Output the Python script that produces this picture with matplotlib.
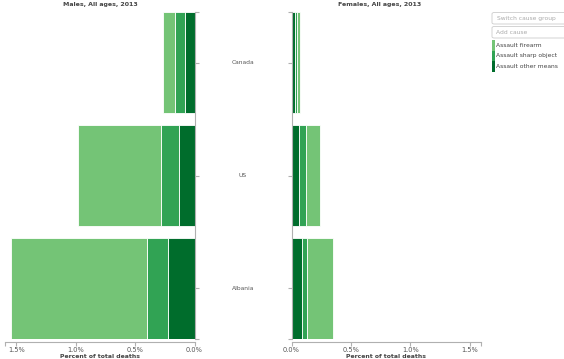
import matplotlib
matplotlib.use("Agg")
import matplotlib.pyplot as plt
import matplotlib.transforms as mtransforms
from matplotlib.patches import Rectangle, FancyBboxPatch

countries = ["Canada", "US", "Albania"]
causes = ["Assault firearm", "Assault sharp object", "Assault other means"]
colors = ["#74c476", "#31a354", "#006d2c"]

male_firearm = [0.10, 0.70, 1.15]
male_sharp = [0.09, 0.15, 0.18]
male_other = [0.076, 0.13, 0.22]

female_firearm = [0.023, 0.12, 0.22]
female_sharp = [0.02, 0.056, 0.045]
female_other = [0.03, 0.065, 0.087]

xticks = [0.0, 0.5, 1.0, 1.5]
xmax = 1.6

W, H = 564, 359
fig = plt.figure(figsize=(W / 100, H / 100), dpi=100)

def px_rect(x0, x1, ytop, ybot):
    return [x0 / W, (H - ybot) / H, (x1 - x0) / W, (ybot - ytop) / H]

pxper = 118.67
axL = fig.add_axes(px_rect(194.5 - xmax * pxper, 194.5, 12, 339))
axR = fig.add_axes(px_rect(291.5, 291.5 + xmax * pxper, 12, 339))

axis_col = "#b0b0b0"
tick_txt = "#555555"

ypos = list(range(len(countries)))

def draw(ax, series):
    left = [0.0] * len(countries)
    for vals, col in series:
        ax.barh(ypos, vals, left=left, height=0.9, color=col,
                edgecolor="white", linewidth=0.6)
        left = [l + v for l, v in zip(left, vals)]

draw(axL, [(male_other, colors[2]), (male_sharp, colors[1]), (male_firearm, colors[0])])
draw(axR, [(female_other, colors[2]), (female_sharp, colors[1]), (female_firearm, colors[0])])

for ax, side in ((axL, "right"), (axR, "left")):
    ax.set_ylim(2.45, -0.45)
    for s in ax.spines.values():
        s.set_visible(False)
    ax.spines[side].set_visible(True)
    ax.spines[side].set_color(axis_col)
    ax.spines["bottom"].set_visible(True)
    ax.spines["bottom"].set_color(axis_col)
    ax.spines["bottom"].set_position(("outward", 2))
    ax.set_yticks([-0.45] + ypos + [2.45])
    ax.set_yticklabels([])
    ax.set_xticks(xticks + [xmax])
    ax.set_xticklabels(["%.1f%%" % t for t in xticks] + [""])
    ax.tick_params(axis="both", colors=axis_col, length=3, width=0.8,
                   labelcolor=tick_txt, labelsize=4.8, pad=1)
    ax.set_xlabel("Percent of total deaths", fontsize=4.4, fontweight="bold",
                  color="#444444", labelpad=0.5)
    ax.patch.set_alpha(0)

axL.set_xlim(xmax, 0)
axL.yaxis.tick_right()
axR.set_xlim(0, xmax)
axR.yaxis.tick_left()

fig.text(100 / W, 1 - 4.5 / H, "Males, All ages, 2013", ha="center", va="center",
         fontsize=4.5, fontweight="bold", color="#444444")
fig.text(380 / W, 1 - 4.5 / H, "Females, All ages, 2013", ha="center", va="center",
         fontsize=4.5, fontweight="bold", color="#444444")

tr = mtransforms.blended_transform_factory(fig.transFigure, axL.transData)
for y, c in zip(ypos, countries):
    fig.text(243 / W, y, c, transform=tr, ha="center", va="center",
             fontsize=4.3, color="#555555")

# controls / legend
def fig_box(x0, y0, x1, y1):
    p = FancyBboxPatch((x0 / W, 1 - y1 / H), (x1 - x0) / W, (y1 - y0) / H,
                       boxstyle="round,pad=0,rounding_size=0.004",
                       transform=fig.transFigure, facecolor="white",
                       edgecolor="#cccccc", linewidth=0.6)
    fig.patches.append(p)

fig_box(492, 12.5, 566, 24)
fig_box(492, 26.5, 566, 38)
fig.text(497 / W, 1 - 18.5 / H, "Switch cause group", ha="left", va="center",
         fontsize=4.3, color="#aaaaaa")
fig.text(496 / W, 1 - 32.5 / H, "Add cause", ha="left", va="center",
         fontsize=4.3, color="#aaaaaa")

leg_y = [45.5, 56, 66.5]
for yc, name, col in zip(leg_y, causes, colors):
    fig.patches.append(Rectangle((492 / W, 1 - (yc + 5) / H), 2.5 / W, 10 / H,
                                 transform=fig.transFigure, facecolor=col,
                                 edgecolor="none"))
    fig.text(496 / W, 1 - yc / H, name, ha="left", va="center",
             fontsize=4.3, color="#444444")

fig.savefig("out.png", dpi=100)
